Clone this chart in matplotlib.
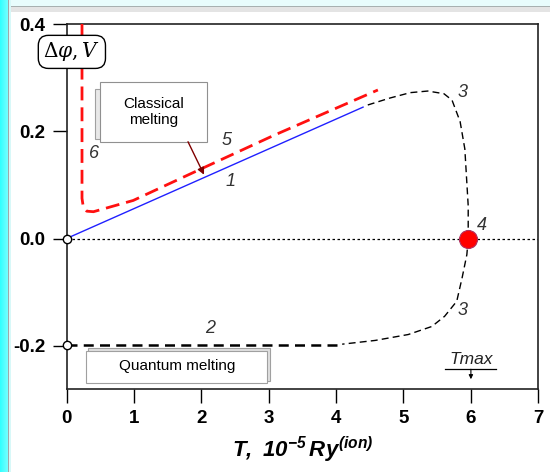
import matplotlib
matplotlib.use("Agg")
import matplotlib.pyplot as plt
from matplotlib.patches import Rectangle
import numpy as np

plt.rcParams['font.family'] = ['Liberation Sans', 'DejaVu Sans']
plt.rcParams['mathtext.fontset'] = 'custom'
plt.rcParams['mathtext.rm'] = 'Liberation Sans:italic:bold'
plt.rcParams['mathtext.it'] = 'Liberation Sans:italic:bold'

# ---- data ----
line1_T = [0.0, 4.4]
line1_y = [0.0, 0.245]

red_T = [0.23, 0.23, 0.25, 0.30, 0.40, 0.99, 2.0, 3.07, 4.62]
red_y = [0.40, 0.075, 0.058, 0.051, 0.050, 0.071, 0.130, 0.192, 0.277]

c3_up_T = [4.47, 4.8, 5.1, 5.36, 5.6, 5.72, 5.84, 5.91, 5.96, 5.96]
c3_up_y = [0.249, 0.262, 0.272, 0.275, 0.270, 0.258, 0.218, 0.167, 0.061, 0.0]

c3_lo_T = [5.96, 5.94, 5.87, 5.79, 5.61, 5.42, 5.07, 4.58, 4.09]
c3_lo_y = [0.0, -0.03, -0.073, -0.117, -0.145, -0.164, -0.179, -0.190, -0.197]

line2_T = [0.0, 4.09]
line2_y = [-0.198, -0.198]

open_T = [0.0, 0.0]
open_y = [0.0, -0.198]

crit_T = [5.96]
crit_y = [0.0]

xticks = [0, 1, 2, 3, 4, 5, 6, 7]
yticks = [-0.2, 0.0, 0.2, 0.4]
ytick_labels = ['-0.2', '0.0', '0.2', '0.4']

curve_labels = [('1', 2.43, 0.106), ('5', 2.38, 0.182), ('6', 0.41, 0.158),
                 ('3', 5.88, 0.272), ('4', 6.16, 0.024), ('3', 5.87, -0.134),
                 ('2', 2.13, -0.167)]

# ---- figure ----
fig = plt.figure(figsize=(5.5, 4.72), dpi=100)
fig.patch.set_facecolor('white')

W, H = 550.0, 472.0
def rect(x0, y0, x1, y1, color):
    fig.patches.append(Rectangle((x0 / W, 1 - y1 / H), (x1 - x0) / W, (y1 - y0) / H,
                                 transform=fig.transFigure, facecolor=color,
                                 edgecolor='none', zorder=0))
rect(0, 0, 550, 6, '#e8fcfc')
rect(0, 6, 550, 7.5, '#a8b0b0')
rect(0, 7.5, 550, 12, '#e4e4e4')
for i in range(8):
    c = np.array([0.2, 1.0, 1.0]) * (1 - i / 10) + np.array([0.55, 1.0, 1.0]) * (i / 10)
    rect(i, 0, i + 1, 472, tuple(c))
rect(8, 0, 9.3, 472, '#a0a8a8')
rect(9.3, 0, 11, 472, '#d8f8f8')

ax = fig.add_axes([66.5 / W, 1 - 388.7 / H, (538.3 - 66.5) / W, (388.7 - 24) / H])
ax.set_xlim(0, 7)
ax.set_ylim(-0.28, 0.4)
ax.set_facecolor('none')

for s in ax.spines.values():
    s.set_linewidth(1.2)
    s.set_color('#222222')

ax.set_xticks(xticks)
ax.set_yticks(yticks)
ax.set_yticklabels(ytick_labels)
ax.tick_params(direction='out', length=10, width=1.0, labelsize=13.5, pad=5)
for lab in ax.get_xticklabels() + ax.get_yticklabels():
    lab.set_fontweight('bold')

ax.axhline(0, color='black', lw=0.9, ls=(0, (2, 2)), zorder=1)

ax.plot(line1_T, line1_y, color='#2020ff', lw=1.0, zorder=3)
ax.plot(red_T, red_y, color='#ff1010', lw=2.0, ls=(0, (5, 2.5)), zorder=3)
ax.plot(c3_up_T, c3_up_y, color='black', lw=1.0, ls=(0, (5, 3)), zorder=3)
ax.plot(c3_lo_T, c3_lo_y, color='black', lw=1.0, ls=(0, (5, 3)), zorder=3)
ax.plot(line2_T, line2_y, color='black', lw=1.8, ls=(0, (4, 2.5)), zorder=3)

ax.plot(open_T, open_y, 'o', ms=6, mfc='white', mec='black', mew=1.0,
        clip_on=False, zorder=5)
ax.plot(crit_T, crit_y, 'o', ms=13, mfc='#ff0000', mec='#b03060', mew=0.8, zorder=6)

for t, x, y in curve_labels:
    ax.text(x, y, t, fontsize=13, style='italic', color='#333333',
            ha='center', va='center', zorder=6)

ax.text(0.08, 0.348, r'$\Delta\varphi, V$', fontsize=14.5, ha='center', va='center',
        clip_on=False, zorder=7, math_fontfamily='dejavuserif',
        bbox=dict(boxstyle='round,pad=0.25,rounding_size=0.5', fc='white', ec='black', lw=1.0))

def data_from_px(px, py):
    return ((px - 66.5) / 67.4, (240 - py) / 537.5)

x0, y0 = data_from_px(95, 140)
x1, y1 = data_from_px(102, 90)
ax.add_patch(Rectangle((x0, y0), x1 - x0, y1 - y0, fc='#e8e8e8', ec='#a0a0a0', lw=0.8, zorder=6))
x0, y0 = data_from_px(100, 143)
x1, y1 = data_from_px(207, 83)
ax.add_patch(Rectangle((x0, y0), x1 - x0, y1 - y0, fc='white', ec='#909090', lw=0.8, zorder=7))
cx, cy = data_from_px(153.5, 113)
ax.text(cx, cy, 'Classical\nmelting', fontsize=11, ha='center', va='center',
        linespacing=1.2, zorder=8)
a0 = data_from_px(188, 143)
a1 = data_from_px(204, 176)
ax.annotate('', xy=a1, xytext=a0, zorder=8,
            arrowprops=dict(arrowstyle='-|>', color='#800000', lw=1.0,
                            mutation_scale=10, shrinkA=0, shrinkB=0))

x0, y0 = data_from_px(88, 383)
x1, y1 = data_from_px(270, 350)
ax.add_patch(Rectangle((x0, y0), x1 - x0, y1 - y0, fc='#e0e0e0', ec='#a0a0a0', lw=0.8, zorder=6))
x0, y0 = data_from_px(86, 385)
x1, y1 = data_from_px(267, 353)
ax.add_patch(Rectangle((x0, y0), x1 - x0, y1 - y0, fc='white', ec='#a0a0a0', lw=0.8, zorder=7))
cx, cy = data_from_px(177, 368)
ax.text(cx, cy, 'Quantum melting', fontsize=11, ha='center', va='center', zorder=8)

tx, ty = data_from_px(471, 361)
ax.text(tx, ty, 'Tmax', fontsize=12.5, style='italic', ha='center', va='center', color='#222222')
lx0, ly = data_from_px(445, 371)
lx1, _ = data_from_px(496, 371)
ax.plot([lx0, lx1], [ly, ly], color='black', lw=0.9)
ax.annotate('', xy=(6.0, (240 - 381) / 537.5), xytext=(6.0, ly),
            arrowprops=dict(arrowstyle='-|>', color='black', lw=0.8,
                            mutation_scale=6, shrinkA=0, shrinkB=0))

ax.set_xlabel(r'$T,\ 10^{-5}\,Ry^{(ion)}$', fontsize=16, labelpad=6)

fig.savefig('out.png', dpi=100)
